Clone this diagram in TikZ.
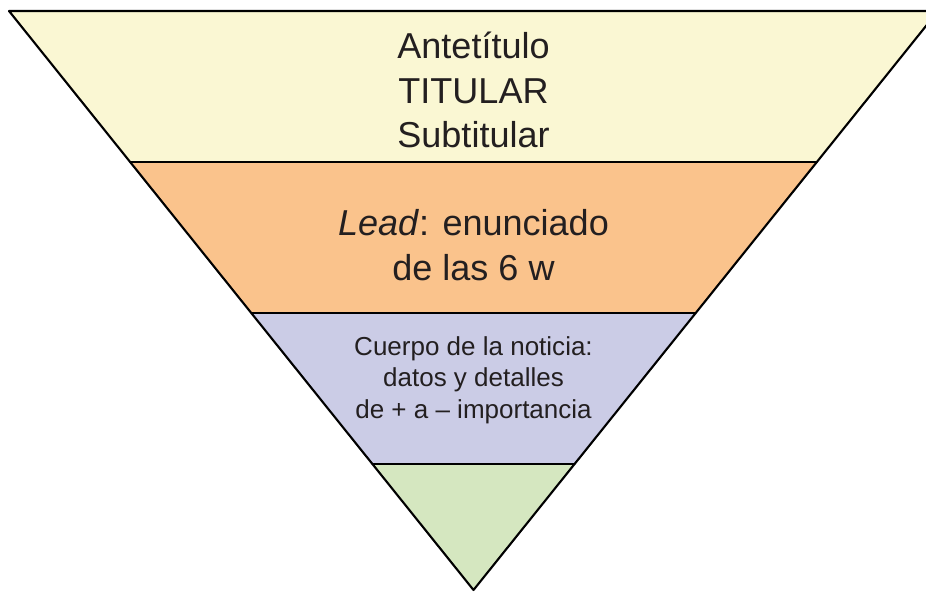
\documentclass[tikz,border=0pt]{standalone}
\usepackage{tikz}
\usepackage{tkz-euclide}
\usepackage{fontspec}
\setmainfont{Liberation Sans}
\definecolor{bandyellow}{HTML}{FAF7D3}
\definecolor{bandorange}{HTML}{FAC38C}
\definecolor{bandlilac}{HTML}{CBCCE6}
\definecolor{bandgreen}{HTML}{D5E7C0}
\definecolor{inktext}{HTML}{231F20}

\begin{document}
\begin{tikzpicture}[
    bigtext/.style={align=center,text=inktext,font=\fontsize{20.5}{25.5}\selectfont},
    smalltext/.style={align=center,text=inktext,font=\fontsize{14.8}{17.8}\selectfont}]
    \useasboundingbox (0,0) rectangle (18.52,11.82);
    \clip (0,0) rectangle (18.52,11.82);
    % apex and top corners
    \tkzDefPoint(9.47,0.02){O}
    \tkzDefPoint(0.18,11.6){A}
    \tkzDefPoint(18.76,11.6){B}
    % points on the sides
    \tkzDefPoint({9.47-9.29*0.7392},8.58){A1}
    \tkzDefPoint({9.47+9.29*0.7392},8.58){B1}
    \tkzDefPoint({9.47-9.29*0.4784},5.56){A2}
    \tkzDefPoint({9.47+9.29*0.4784},5.56){B2}
    \tkzDefPoint({9.47-9.29*0.2176},2.54){A3}
    \tkzDefPoint({9.47+9.29*0.2176},2.54){B3}
    \tkzFillPolygon[color=bandyellow](A,B,B1,A1)
    \tkzFillPolygon[color=bandorange](A1,B1,B2,A2)
    \tkzFillPolygon[color=bandlilac](A2,B2,B3,A3)
    \tkzFillPolygon[color=bandgreen](A3,B3,O)
    \tkzDrawPolygon[line width=1.2pt](A,B,O)
    \tkzDrawSegments[line width=1.2pt](A1,B1 A2,B2 A3,B3)
    \node[bigtext] (titulos) at (9.47,10.02) {Antetítulo\\TITULAR\\Subtitular};
    \node[bigtext] (lead) at (9.47,6.92) {\textit{Lead}: enunciado\\de las 6 w};
    \node[smalltext] (cuerpo) at (9.47,4.22) {Cuerpo de la noticia:\\datos y detalles\\de + a – importancia};
  \end{tikzpicture}
\end{document}
